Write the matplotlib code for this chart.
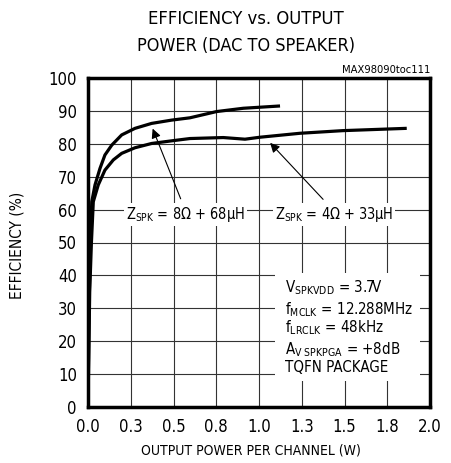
import matplotlib
matplotlib.use("Agg")
import matplotlib.pyplot as plt
from matplotlib.patches import Rectangle
from matplotlib import font_manager

# pick a narrow font if one is installed
FONT = "Liberation Sans"
STRETCH = "normal"
SCALE = 0.88
cands = []
for f in font_manager.fontManager.ttflist:
    fn = f.fname.lower()
    if f.style == "normal" and f.weight in (400, "normal", "regular") and ("narrow" in fn or "condensed" in fn):
        cands.append(f)
pref = ["liberationsansnarrow-regular", "dejavusanscondensed.", "roboto_condensed", "robotocondensed-regular"]
for key in pref:
    hit = [f for f in cands if key in f.fname.lower().replace(" ", "")]
    if hit:
        FONT = hit[0].name
        STRETCH = hit[0].stretch
        SCALE = 1.0 if "liberation" in key else 0.95
        break

plt.rcParams["font.family"] = [FONT, "DejaVu Sans"]
plt.rcParams["font.stretch"] = STRETCH
plt.rcParams["mathtext.fontset"] = "custom"
spec = FONT if STRETCH in ("normal", 500) else f"{FONT}:stretch={STRETCH}"
plt.rcParams["mathtext.rm"] = spec
plt.rcParams["mathtext.it"] = spec

# Data
p_8ohm = [0.0, 0.004, 0.008, 0.014, 0.022, 0.041, 0.070, 0.099, 0.139, 0.197, 0.275,
          0.372, 0.489, 0.596, 0.752, 0.908, 1.123]
eff_8ohm = [0, 20, 35, 50, 62.4, 67.5, 72.5, 76.6, 79.6, 82.7, 84.7,
            86.2, 87.2, 87.9, 89.8, 90.8, 91.5]
p_4ohm = [0.0, 0.005, 0.01, 0.02, 0.031, 0.060, 0.099, 0.148, 0.197, 0.275, 0.372,
          0.489, 0.596, 0.791, 0.918, 1.006, 1.24, 1.49, 1.864]
eff_4ohm = [0, 18, 35, 50, 62.4, 67.5, 72.0, 75.1, 77.1, 78.8, 80.1,
            80.9, 81.6, 81.9, 81.4, 82.0, 83.2, 84.0, 84.7]

x_ticks = [0, 0.25, 0.5, 0.75, 1.0, 1.25, 1.5, 1.75, 2.0]
x_tick_labels = ["0.0", "0.3", "0.5", "0.8", "1.0", "1.3", "1.5", "1.8", "2.0"]
y_ticks = [0, 10, 20, 30, 40, 50, 60, 70, 80, 90, 100]

fig = plt.figure(figsize=(4.51, 4.63), dpi=100)
ax = fig.add_axes([88 / 451, 1 - 407 / 463, (430 - 88) / 451, (407 - 78) / 463])

ax.set_xlim(0, 2.0)
ax.set_ylim(0, 100)
ax.set_xticks(x_ticks)
ax.set_xticklabels(x_tick_labels)
ax.set_yticks(y_ticks)
ax.tick_params(length=0, labelsize=12, pad=8)
ax.set_axisbelow(True)
ax.grid(True, color="#333333", linewidth=0.8)
for s in ax.spines.values():
    s.set_linewidth(2.5)

ax.plot(p_8ohm, eff_8ohm, color="black", linewidth=2.3, solid_capstyle="butt",
        solid_joinstyle="round", zorder=3)
ax.plot(p_4ohm, eff_4ohm, color="black", linewidth=2.3, solid_capstyle="butt",
        solid_joinstyle="round", zorder=3)

# Labels with arrows
ax.annotate("", xy=(0.372, 85.4), xytext=(0.548, 62.5),
            arrowprops=dict(arrowstyle="-|>", color="black", lw=0.8, mutation_scale=14), zorder=4)
ax.annotate("", xy=(1.054, 80.9), xytext=(1.386, 62.5),
            arrowprops=dict(arrowstyle="-|>", color="black", lw=0.8, mutation_scale=14), zorder=4)
bbox = dict(facecolor="white", edgecolor="none", pad=1.5)
fz = 11 * SCALE
ax.text(0.57, 58.5, r"$\mathregular{Z_{SPK}}$ = 8Ω + 68µH", ha="center", va="center",
        fontsize=fz, bbox=bbox, zorder=5)
ax.text(1.44, 58.5, r"$\mathregular{Z_{SPK}}$ = 4Ω + 33µH", ha="center", va="center",
        fontsize=fz, bbox=bbox, zorder=5)

# Conditions box
ax.add_patch(Rectangle((1.094, 7.8), 1.94 - 1.094, 40.7 - 7.8, facecolor="white",
                       edgecolor="none", zorder=2))
cond = [
    (36.2, r"$\mathregular{V_{SPKVDD}}$ = 3.7V"),
    (29.5, r"$\mathregular{f_{MCLK}}$ = 12.288MHz"),
    (24.0, r"$\mathregular{f_{LRCLK}}$ = 48kHz"),
    (17.3, r"$\mathregular{A_{V\ SPKPGA}}$ = +8dB"),
    (11.9, "TQFN PACKAGE"),
]
fc = 11.4 * SCALE
for y, t in cond:
    ax.text(1.15, y, t, ha="left", va="center", fontsize=fc, zorder=5)

fig.text(430 / 451, 1 - 70 / 463, "MAX98090toc111", ha="right", va="center", fontsize=8)
fig.text(0.545, 1 - 19 / 463, "EFFICIENCY vs. OUTPUT", ha="center", va="center", fontsize=13.9 * SCALE)
fig.text(0.545, 1 - 46 / 463, "POWER (DAC TO SPEAKER)", ha="center", va="center", fontsize=13.7 * SCALE)
fig.text(251 / 451, 1 - 451 / 463, "OUTPUT POWER PER CHANNEL (W)", ha="center", va="center",
         fontsize=10.5 * SCALE)
fig.text(17 / 451, 1 - 245 / 463, "EFFICIENCY (%)", ha="center", va="center",
         fontsize=11.7 * SCALE, rotation=90)

fig.savefig("out.png", dpi=100)
